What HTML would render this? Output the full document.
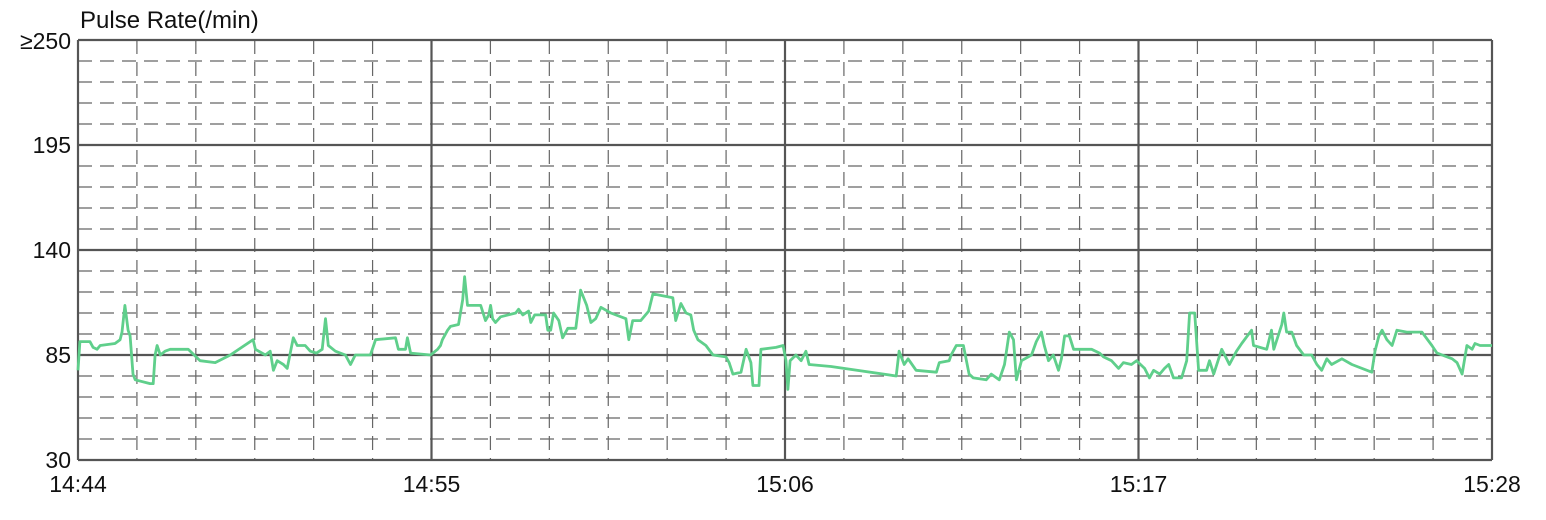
<!DOCTYPE html>
<html><head><meta charset="utf-8">
<style>
html,body{margin:0;padding:0;background:#fff;width:1546px;height:520px;overflow:hidden;}
svg{display:block;font-family:"Liberation Sans","DejaVu Sans",sans-serif;}
</style></head>
<body>
<svg id="chart" width="1546" height="520" viewBox="0 0 1546 520">
<text x="80" y="28" font-size="24" fill="#111">Pulse Rate(/min)</text>
<g id="grid"></g>
<g id="labels"></g>
<polyline id="line" fill="none" stroke="#5fcf8b" stroke-width="2.8" stroke-linejoin="round"/>
</svg>
<script>
const yTicks = [30, 85, 140, 195, 250];
const yTickLabels = ["30", "85", "140", "195", "≥250"];
const xTickLabels = ["14:44", "14:55", "15:06", "15:17", "15:28"];
const times = [0,0.06,0.37,0.47,0.59,0.69,1.15,1.31,1.37,1.46,1.56,1.62,1.71,1.78,2.24,2.34,2.40,2.46,2.56,2.71,2.87,3.43,3.80,4.27,4.74,5.45,5.52,5.83,5.98,6.08,6.20,6.39,6.51,6.70,6.82,7.07,7.23,7.42,7.60,7.70,7.79,8.01,8.32,8.48,8.63,9.10,9.26,9.88,9.97,10.19,10.25,10.35,10.97,
11.19,11.28,11.34,11.50,11.59,11.84,11.97,12.03,12.12,12.53,12.68,12.78,12.84,12.90,12.99,13.15,13.62,13.71,13.84,14.02,14.09,14.21,14.55,14.62,14.71,14.80,14.96,15.08,15.24,15.49,15.64,15.83,15.96,16.11,16.27,16.58,17.05,17.14,17.26,17.51,17.76,17.89,18.51,18.60,18.76,18.92,19.07,19.16,19.29,19.54,19.76,20.16,20.26,20.38,20.63,20.79,20.94,21.00,21.19,21.25,21.72,21.94,22.03,22.09,22.16,22.34,
22.50,22.65,22.75,23.43,25.46,25.55,25.71,25.83,26.08,26.71,26.80,27.11,27.17,27.33,27.55,27.73,27.86,28.26,28.42,28.67,28.83,28.98,29.11,29.20,29.36,29.67,29.82,29.98,30.07,30.20,30.35,30.51,30.60,30.70,30.85,30.98,31.54,31.79,31.91,32.16,32.38,32.53,32.78,32.94,
33.00,33.19,33.34,33.47,33.66,33.81,33.94,34.09,34.34,34.50,34.59,34.75,34.87,35.12,35.21,35.34,35.59,35.74,35.83,36.05,36.21,36.52,36.58,36.99,37.14,37.21,37.46,37.52,37.61,37.77,37.92,38.14,38.39,38.55,38.70,38.86,39.01,39.33,39.64,40.26,40.36,40.48,40.58,40.73,40.89,41.04,41.35,41.82,42.13,42.29,42.76,42.91,43.07,43.22,43.38,43.47,43.63,44.0];
const values = [77,92,92,89,88,90,91,93,97,111,98,95,75,72,70,70,85,90,85,87,88,88,82,81,85,93,88,85,87,77,82,80,78,94,90,90,87,86,88,104,90,87,85,80,85,85,93,94,88,88,94,86,85,
88,90,93,98,100,101,114,126,111,111,103,106,111,104,102,105,107,109,106,108,102,106,106,98,98,107,103,94,99,99,119,111,102,104,110,107,104,93,103,103,108,117,115,103,112,107,106,98,93,90,85,84,81,75,76,88,81,69,69,88,89,90,82,67,82,85,
82,87,80,79,74,87,80,83,77,76,81,82,85,90,90,75,73,72,75,72,80,97,93,72,82,85,92,97,90,82,85,77,83,95,95,88,88,86,84,82,78,81,80,82,
81,78,73,77,75,78,80,73,73,82,107,107,77,77,82,75,88,83,80,87,91,98,90,88,98,88,101,107,97,97,90,85,85,80,77,83,80,83,80,76,87,95,98,93,90,98,97,97,90,86,83,81,75,90,88,91,90,90];

const L=78,R=1492,T=40,B=460;
const yMin=30,yMax=250,tMax=44;
const xs=t=>L+(t/tMax)*(R-L);
const ys=v=>B-(v-yMin)/(yMax-yMin)*(B-T);
const NS="http://www.w3.org/2000/svg";
const grid=document.getElementById('grid');
const labels=document.getElementById('labels');
function line(x1,y1,x2,y2,stroke,w,dash,name){
  const l=document.createElementNS(NS,'line');
  l.setAttribute('x1',x1);l.setAttribute('y1',y1);l.setAttribute('x2',x2);l.setAttribute('y2',y2);
  l.setAttribute('stroke',stroke);l.setAttribute('stroke-width',w);
  if(dash)l.setAttribute('stroke-dasharray',dash);
  
  
  grid.appendChild(l);
}
for(let i=0;i<20;i++){
  if(i%5===0)continue;
  const y=T+i*(B-T)/20;
  line(L,y,R,y,'#666',1.2,'14,8','minor-gridline-h');
}
for(let i=0;i<24;i++){
  if(i%6===0)continue;
  const x=L+i*(R-L)/24;
  line(x,T,x,B,'#666',1.2,'14,8','minor-gridline-v');
}
yTicks.forEach((v,i)=>{
  line(L,ys(v),R,ys(v),'#555',2.2,null,'major-gridline-h');
  const t=document.createElementNS(NS,'text');
  t.setAttribute('x',71);t.setAttribute('y',ys(v)+(i===yTicks.length-1?9:8));
  t.setAttribute('text-anchor','end');t.setAttribute('font-size','23');t.setAttribute('fill','#111');
  t.textContent=yTickLabels[i];
  
  
  labels.appendChild(t);
});
xTickLabels.forEach((s,i)=>{
  const x=L+i*(R-L)/(xTickLabels.length-1);
  line(x,T,x,B,'#555',2.2,null,'major-gridline-v');
  const t=document.createElementNS(NS,'text');
  t.setAttribute('x',x);t.setAttribute('y',492);
  t.setAttribute('text-anchor','middle');t.setAttribute('font-size','23');t.setAttribute('fill','#111');
  t.textContent=s;
  
  
  labels.appendChild(t);
});
document.getElementById('line').setAttribute('points',
  times.map((t,i)=>xs(t).toFixed(1)+','+ys(values[i]).toFixed(1)).join(' '));
</script>
</body></html>
